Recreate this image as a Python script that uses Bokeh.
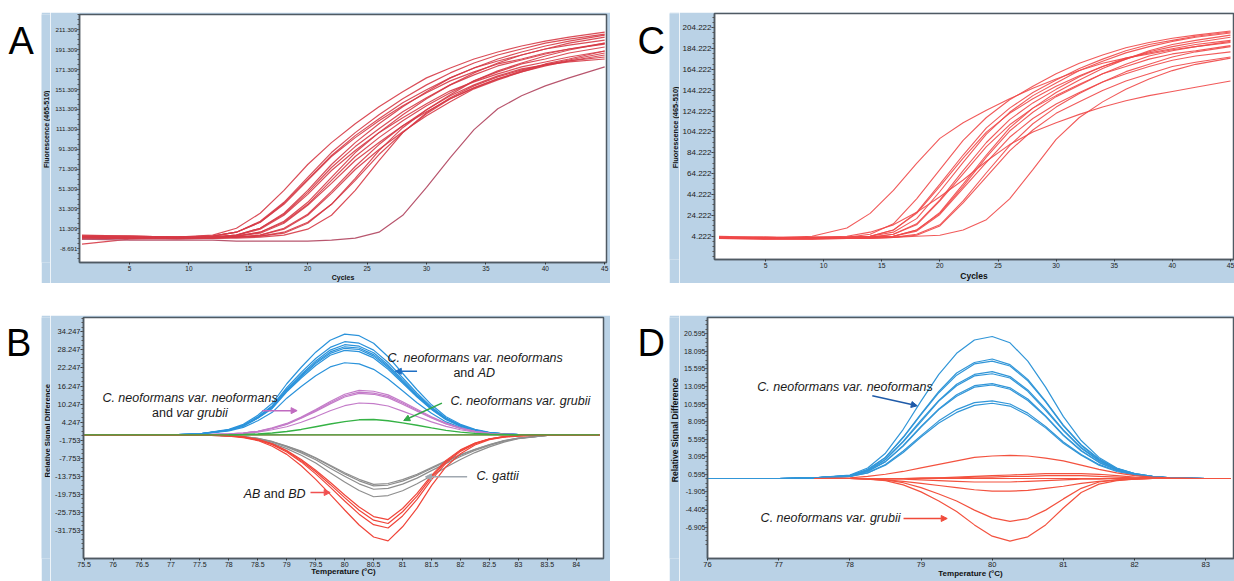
import math
from bokeh.plotting import figure
from bokeh.layouts import row, column
from bokeh.models import (Range1d, FixedTicker, PrintfTickFormatter, NumeralTickFormatter,
                          Label, Arrow, NormalHead, Spacer)
from bokeh.embed import file_html
from bokeh.resources import INLINE

nan = float("nan")

# ---------------------------------------------------------------- data
panel_letters = ["A", "B", "C", "D"]
label_fluor = "Fluorescence (465-510)"
label_rsd = "Relative Signal Difference"
label_cycles = "Cycles"
label_temp = "Temperature (\u00b0C)"

# --- A: amplification curves (Fluorescence 465-510 vs cycle)
cycles = [1, 5, 9, 12, 14, 16, 18, 20, 22, 24, 26, 28, 30, 32, 34, 36, 38, 40, 42, 45]
amp_A_main = [
    [4, 3, 3, 5, 12, 27, 50, 76, 98, 117, 134, 149, 163, 173, 182, 189, 195, 200, 204, 209],
    [3, 3, 3, 4, 8, 19, 38, 63, 88, 108, 126, 142, 156, 168, 178, 186, 192, 198, 202, 207],
    [5, 4, 3, 4, 8, 18, 36, 60, 84, 103, 120, 135, 148, 160, 169, 177, 182, 188, 192, 197],
    [3, 2, 2, 3, 5, 12, 27, 50, 76, 98, 117, 134, 149, 163, 173, 182, 189, 195, 200, 206],
    [2, 3, 3, 3, 5, 12, 26, 48, 73, 94, 112, 129, 143, 156, 166, 175, 181, 187, 192, 198],
    [4, 4, 3, 3, 5, 11, 25, 46, 70, 90, 108, 123, 137, 150, 159, 167, 174, 179, 184, 190],
    [3, 3, 2, 3, 4, 8, 19, 38, 63, 88, 108, 126, 142, 156, 168, 178, 186, 192, 198, 204],
    [2, 2, 2, 2, 4, 8, 18, 36, 60, 84, 103, 120, 135, 148, 160, 169, 177, 182, 188, 194],
    [3, 2, 2, 3, 4, 7, 17, 35, 57, 80, 98, 115, 129, 142, 153, 162, 169, 175, 180, 186],
    [1, 2, 2, 3, 3, 5, 12, 26, 49, 74, 96, 115, 131, 146, 160, 170, 178, 185, 191, 198],
    [2, 2, 2, 2, 3, 5, 11, 25, 47, 71, 91, 109, 125, 139, 152, 161, 169, 176, 181, 188],
    [3, 2, 2, 2, 3, 4, 8, 18, 36, 60, 86, 108, 127, 142, 153, 162, 170, 177, 182, 190],
    [-4, 1, 2, 2, 3, 4, 7, 17, 36, 62, 90, 113, 131, 145, 156, 165, 172, 176, 179, 182],
    [2, 2, 1, 2, 2, 3, 5, 11, 25, 50, 80, 108, 128, 143, 155, 164, 171, 176, 180, 184],
    [4, 4, 3, 4, 8, 18, 37, 61, 85, 105, 122, 138, 151, 163, 173, 180, 186, 192, 196, 201],
]
amp_A_late = [1, 0, 0, 0, -1, -1, -1, -1, 0, 2, 8, 25, 53, 83, 111, 132, 145, 155, 163, 174]
ticks_cycles = [5, 10, 15, 20, 25, 30, 35, 40, 45]
ticks_A_y = [211.309, 191.309, 171.309, 151.309, 131.309, 111.309, 91.309,
             71.309, 51.309, 31.309, 11.309, -8.691]

# --- C: amplification curves
amp_C = [
    [3, 2, 4, 12, 26, 48, 74, 98, 113, 125, 136, 146, 155, 163, 170, 175, 179, 183, 186, 190],
    [4, 3, 3, 3, 6, 16, 40, 68, 96, 118, 135, 148, 160, 170, 178, 185, 190, 194, 197, 201],
    [3, 2, 3, 3, 4, 10, 27, 54, 82, 108, 127, 142, 154, 165, 174, 182, 188, 192, 196, 200],
    [3, 3, 2, 3, 4, 10, 26, 52, 79, 104, 122, 136, 148, 158, 167, 175, 180, 184, 188, 192],
    [2, 2, 2, 3, 3, 6, 16, 39, 67, 94, 116, 132, 145, 157, 167, 174, 181, 186, 190, 195],
    [3, 2, 2, 2, 3, 6, 15, 38, 64, 90, 111, 127, 139, 150, 160, 167, 174, 179, 182, 187],
    [2, 2, 2, 2, 3, 4, 10, 26, 52, 80, 105, 123, 138, 149, 160, 169, 177, 182, 186, 191],
    [3, 3, 2, 2, 3, 4, 9, 25, 50, 75, 99, 117, 131, 142, 152, 160, 167, 173, 177, 181],
    [2, 2, 2, 2, 3, 3, 6, 15, 38, 65, 91, 112, 128, 141, 152, 162, 169, 176, 181, 186],
    [2, 1, 1, 2, 2, 3, 5, 14, 36, 61, 86, 106, 122, 133, 144, 153, 160, 167, 171, 176],
    [3, 2, 2, 2, 2, 3, 4, 5, 10, 20, 40, 68, 97, 118, 133, 145, 155, 163, 169, 175],
    [3, 2, 3, 4, 8, 15, 27, 42, 58, 76, 92, 104, 113, 121, 128, 134, 139, 143, 147, 153],
    [3, 3, 3, 3, 4, 8, 21, 47, 75, 102, 123, 139, 151, 163, 172, 180, 186, 191, 195, 199],
    [2, 3, 2, 3, 3, 4, 10, 27, 54, 82, 108, 127, 142, 154, 165, 174, 182, 188, 192, 197],
]
ticks_C_y = [204.222, 184.222, 164.222, 144.222, 124.222, 104.222, 84.222,
             64.222, 44.222, 24.222, 4.222]

# --- B: melting curves (relative signal difference vs temperature)
temps_B = [75.5, 76.0, 76.5, 77.0, 77.5, 78.0, 78.25, 78.5, 78.75, 79.0, 79.25, 79.5,
           79.75, 80.0, 80.25, 80.5, 80.75, 81.0, 81.25, 81.5, 81.75, 82.0, 82.25,
           82.5, 82.75, 83.0, 83.5, 84.0, 84.4]
melt_B_blue = [
    [0, 0, 0, 0, 0.3, 1.8, 3.5, 6.5, 10.5, 17, 22.5, 27.5, 31.5, 33.5, 33, 30.5, 26, 20.5, 15, 10, 6, 3.5, 1.8, 0.8, 0.3, 0.1, 0, 0, 0],
    [0, 0, 0, 0, 0.3, 1.7, 3.2, 6.0, 9.7, 15.7, 20.8, 25.4, 29.1, 31.0, 30.5, 28.2, 24.1, 19.0, 13.9, 9.3, 5.6, 3.2, 1.7, 0.7, 0.3, 0.1, 0, 0, 0],
    [0, 0, 0, 0, 0.3, 1.6, 3.1, 5.8, 9.4, 15.2, 20.1, 24.6, 28.2, 30.0, 29.5, 27.3, 23.3, 18.3, 13.4, 9.0, 5.4, 3.1, 1.6, 0.7, 0.3, 0.1, 0, 0, 0],
    [0, 0, 0, 0, 0.3, 1.6, 3.1, 5.7, 9.2, 14.9, 19.7, 24.1, 27.6, 29.3, 28.9, 26.7, 22.8, 17.9, 13.1, 8.8, 5.3, 3.1, 1.6, 0.7, 0.3, 0.1, 0, 0, 0],
    [0, 0, 0, 0, 0.3, 1.5, 3.0, 5.6, 9.0, 14.6, 19.4, 23.7, 27.1, 28.8, 28.4, 26.2, 22.4, 17.6, 12.9, 8.6, 5.2, 3.0, 1.5, 0.7, 0.3, 0.1, 0, 0, 0],
    [0, 0, 0, 0, 0.3, 1.5, 2.9, 5.5, 8.8, 14.3, 18.9, 23.1, 26.5, 28.1, 27.7, 25.6, 21.8, 17.2, 12.6, 8.4, 5.0, 2.9, 1.5, 0.7, 0.3, 0.1, 0, 0, 0],
    [0, 0, 0, 0, 0.2, 1.3, 2.5, 4.7, 7.5, 12.2, 16.1, 19.7, 22.6, 24.0, 23.6, 21.8, 18.6, 14.7, 10.7, 7.2, 4.3, 2.5, 1.3, 0.6, 0.2, 0.1, 0, 0, 0],
]
melt_B_pink = [
    [0, 0, 0, 0, 0, 0.3, 0.6, 1.2, 2.3, 3.8, 5.9, 8.4, 11.1, 13.5, 14.8, 14.5, 13.3, 11.0, 8.5, 6.0, 3.9, 2.3, 1.2, 0.5, 0.2, 0.1, 0, 0, 0],
    [0, 0, 0, 0, 0, 0.3, 0.6, 1.2, 2.2, 3.6, 5.7, 8.1, 10.7, 13.0, 14.2, 13.9, 12.8, 10.6, 8.2, 5.8, 3.7, 2.2, 1.2, 0.5, 0.2, 0.1, 0, 0, 0],
    [0, 0, 0, 0, 0, 0.3, 0.6, 1.1, 2.1, 3.5, 5.5, 7.8, 10.3, 12.6, 13.8, 13.5, 12.4, 10.2, 7.9, 5.6, 3.6, 2.1, 1.1, 0.5, 0.2, 0.1, 0, 0, 0],
    [0, 0, 0, 0, 0, 0.2, 0.4, 0.9, 1.7, 2.7, 4.2, 6.0, 8.0, 9.7, 10.6, 10.4, 9.6, 7.9, 6.1, 4.3, 2.8, 1.7, 0.9, 0.4, 0.1, 0.1, 0, 0, 0],
]
melt_B_green = [0, 0, 0, 0, 0, 0, 0.1, 0.3, 0.6, 1.1, 1.8, 2.7, 3.6, 4.4, 5.0, 5.1, 4.7, 4.0, 3.2, 2.3, 1.5, 0.9, 0.5, 0.2, 0.1, 0, 0, 0, 0]
melt_B_green_flat = [nan, nan, nan, nan, nan, 0, 0, 0, 0, 0, 0, 0, 0, 0, 0, 0, 0, 0, 0, 0, 0, 0, 0, 0, 0, 0, nan, nan, nan]
melt_B_gray = [
    [0, 0, 0, 0, 0, -0.3, -0.6, -1.2, -2.3, -3.8, -5.6, -7.8, -10.4, -13.0, -15.3, -17.0, -16.7, -15.4, -13.5, -11.2, -8.9, -6.8, -4.9, -3.3, -2.0, -1.1, -0.2, 0, 0],
    [0, 0, 0, 0, 0, -0.3, -0.6, -1.3, -2.4, -4.0, -6.0, -8.3, -11.1, -13.8, -16.3, -18.1, -17.8, -16.4, -14.4, -11.9, -9.5, -7.2, -5.2, -3.5, -2.1, -1.2, -0.2, 0, 0],
    [0, 0, 0, 0, 0, -0.4, -0.7, -1.5, -2.8, -4.6, -6.8, -9.4, -12.6, -15.7, -18.5, -20.6, -20.2, -18.6, -16.3, -13.6, -10.8, -8.2, -5.9, -4.0, -2.4, -1.3, -0.2, 0, 0],
    [0, 0, 0, 0, 0, -0.3, -0.6, -1.2, -2.2, -3.7, -5.4, -7.6, -10.1, -12.6, -14.8, -16.5, -16.2, -14.9, -13.1, -10.9, -8.6, -6.6, -4.8, -3.2, -1.9, -1.1, -0.2, 0, 0],
]
melt_B_red = [
    [0, 0, 0, 0, 0, -0.3, -0.7, -1.5, -3.0, -5.2, -8.2, -11.8, -15.8, -20.0, -24.0, -27.2, -28.2, -24.5, -19.5, -13.5, -8.5, -5.0, -2.7, -1.3, -0.6, -0.3, 0, 0, 0],
    [0, 0, 0, 0, 0, -0.3, -0.8, -1.7, -3.3, -5.7, -9.0, -13.0, -17.4, -22.0, -26.4, -29.9, -31.0, -27.0, -21.5, -14.9, -9.4, -5.5, -3.0, -1.4, -0.7, -0.3, 0, 0, 0],
    [0, 0, 0, 0, 0, -0.4, -0.9, -1.9, -3.8, -6.5, -10.3, -14.8, -19.8, -25.0, -30.0, -34.0, -35.3, -30.6, -24.4, -16.9, -10.6, -6.3, -3.4, -1.6, -0.8, -0.4, 0, 0, 0],
    [0, 0, 0, 0, 0, -0.3, -0.7, -1.6, -3.1, -5.4, -8.6, -12.3, -16.5, -20.9, -25.1, -28.4, -29.5, -25.6, -20.4, -14.1, -8.9, -5.2, -2.8, -1.4, -0.6, -0.3, 0, 0, 0],
]
melt_B_red_flat = [0] * len(temps_B)
ticks_B_x = [75.5, 76, 76.5, 77, 77.5, 78, 78.5, 79, 79.5, 80, 80.5, 81, 81.5, 82, 82.5, 83, 83.5, 84]
ticks_B_y = [34.247, 28.247, 22.247, 16.247, 10.247, 4.247, -1.753, -7.753,
             -13.753, -19.753, -25.753, -31.753]

# --- D: melting curves
temps_D = [76.0, 76.5, 77.0, 77.5, 78.0, 78.25, 78.5, 78.75, 79.0, 79.25, 79.5, 79.75,
           80.0, 80.25, 80.5, 80.75, 81.0, 81.25, 81.5, 81.75, 82.0, 82.25, 82.5, 83.0, 83.35]
melt_D_blue = [
    [0, 0, 0, 0.1, 0.5, 1.5, 3.6, 7.0, 11.0, 14.8, 17.8, 19.7, 20.2, 19.3, 16.7, 13.0, 8.8, 5.4, 3.0, 1.5, 0.7, 0.3, 0.1, 0, 0],
    [0, 0, 0, 0.1, 0.4, 1.3, 3.0, 5.9, 9.2, 12.4, 15.0, 16.5, 17.0, 16.2, 14.1, 11.0, 7.6, 4.8, 2.8, 1.4, 0.7, 0.3, 0.1, 0, 0],
    [0, 0, 0, 0.1, 0.4, 1.2, 3.0, 5.8, 9.1, 12.2, 14.7, 16.3, 16.7, 16.0, 13.9, 10.9, 7.5, 4.7, 2.7, 1.4, 0.7, 0.3, 0.1, 0, 0],
    [0, 0, 0, 0.1, 0.4, 1.1, 2.7, 5.3, 8.3, 11.1, 13.4, 14.8, 15.2, 14.5, 12.6, 9.9, 6.9, 4.4, 2.6, 1.3, 0.6, 0.3, 0.1, 0, 0],
    [0, 0, 0, 0.1, 0.4, 1.1, 2.7, 5.2, 8.1, 11.0, 13.2, 14.6, 14.9, 14.3, 12.4, 9.7, 6.8, 4.3, 2.5, 1.3, 0.6, 0.3, 0.1, 0, 0],
    [0, 0, 0, 0.1, 0.3, 1.0, 2.4, 4.7, 7.4, 9.9, 11.9, 13.2, 13.5, 12.9, 11.3, 8.9, 6.2, 4.0, 2.3, 1.2, 0.6, 0.2, 0.1, 0, 0],
    [0, 0, 0, 0.1, 0.3, 1.0, 2.4, 4.6, 7.3, 9.8, 11.7, 13.0, 13.3, 12.7, 11.1, 8.8, 6.1, 3.9, 2.3, 1.2, 0.6, 0.2, 0.1, 0, 0],
    [0, 0, 0, 0.1, 0.3, 0.8, 2.0, 3.9, 6.1, 8.2, 9.8, 10.8, 11.05, 10.6, 9.3, 7.4, 5.2, 3.4, 2.0, 1.1, 0.5, 0.2, 0.1, 0, 0],
    [0, 0, 0, 0.1, 0.3, 0.8, 1.9, 3.7, 5.9, 7.9, 9.4, 10.4, 10.7, 10.3, 9.0, 7.2, 5.0, 3.3, 1.9, 1.0, 0.5, 0.2, 0.1, 0, 0],
]
melt_D_red = [
    [nan, nan, nan, 0, 0, 0, 0, 0, 0, 0, 0, 0, 0, 0, 0, 0, 0, 0, 0, 0, 0, 0, 0, 0, 0],
    [nan, nan, nan, 0, 0, -0.1, -0.3, -0.9, -1.9, -3.2, -4.7, -6.6, -8.2, -8.9, -8.3, -6.6, -4.2, -2.0, -0.8, -0.3, -0.1, 0, 0, 0, 0],
    [nan, nan, nan, 0, 0, -0.1, -0.2, -0.6, -1.3, -2.2, -3.2, -4.5, -5.6, -6.1, -5.7, -4.5, -2.9, -1.4, -0.5, -0.2, -0.1, 0, 0, 0, 0],
    [nan, nan, nan, 0, 0, -0.1, -0.2, -0.4, -0.7, -1.0, -1.3, -1.6, -1.8, -1.8, -1.7, -1.4, -1.1, -0.7, -0.4, -0.2, -0.1, 0, 0, 0, 0],
    [nan, nan, nan, 0, 0, 0, -0.1, -0.1, -0.2, -0.3, -0.4, -0.5, -0.5, -0.5, -0.4, -0.3, -0.2, -0.1, -0.1, 0, 0, 0, 0, 0, 0],
    [nan, nan, nan, 0, 0.1, 0.3, 0.6, 1.0, 1.5, 2.0, 2.5, 3.0, 3.2, 3.3, 3.2, 2.9, 2.5, 1.9, 1.3, 0.8, 0.4, 0.2, 0.1, 0, 0],
    [nan, nan, nan, 0, 0, 0, 0, 0, 0.1, 0.1, 0.2, 0.3, 0.4, 0.5, 0.6, 0.7, 0.7, 0.7, 0.6, 0.4, 0.2, 0.1, 0, 0, 0],
    [nan, nan, nan, 0, 0, 0, 0, 0, 0, 0.1, 0.1, 0.2, 0.2, 0.3, 0.3, 0.4, 0.4, 0.4, 0.3, 0.2, 0.1, 0, 0, 0, 0],
]
ticks_D_x = [76, 77, 78, 79, 80, 81, 82, 83]
ticks_D_y = [20.595, 18.095, 15.595, 13.095, 10.595, 8.095, 5.595, 3.095, 0.595,
             -1.905, -4.405, -6.905]

# ---------------------------------------------------------------- style
FONT = "Liberation Sans"
FRAME_BLUE = "#bad2e6"
OUTLINE = "#4f5a63"


def blank_fig(w, h, bg):
    p = figure(width=w, height=h, x_range=Range1d(0, w), y_range=Range1d(h, 0),
               toolbar_location=None, output_backend="svg", min_border=0,
               x_axis_location=None, y_axis_location=None)
    p.grid.visible = False
    p.outline_line_color = None
    p.background_fill_color = bg
    p.border_fill_color = bg
    return p


def letter_fig(w, h, ch, x, baseline):
    p = blank_fig(w, h, "white")
    p.add_layout(Label(x=x, y=baseline, text=ch, text_font=FONT, text_font_size="38px",
                       text_color="black", text_baseline="alphabetic", text_align="left"))
    return p


def ylabel_fig(w, h, text, cx, cy, size):
    p = blank_fig(w, h, FRAME_BLUE)
    p.add_layout(Label(x=cx, y=cy, text=text, angle=math.pi / 2, text_font=FONT,
                       text_font_size=f"{size}px", text_font_style="bold",
                       text_color="#111111", text_align="center", text_baseline="middle"))
    return p


def make_panel(w, h, xr, yr, borders, xticks, yticks, xfmt, xlabel,
               xtick_px, ytick_px, xlab_px, xlab_standoff, ytick_out):
    top, right, bottom, left = borders
    p = figure(width=w, height=h, x_range=Range1d(*xr), y_range=Range1d(*yr),
               toolbar_location=None, output_backend="svg",
               min_border_top=top, min_border_right=right,
               min_border_bottom=bottom, min_border_left=left)
    p.border_fill_color = FRAME_BLUE
    p.background_fill_color = "white"
    p.outline_line_color = OUTLINE
    p.outline_line_width = 1.5
    p.xgrid.visible = False
    p.ygrid.visible = False
    step = yticks[0] - yticks[1]
    lo, hi = min(yr), max(yr)
    minor = []
    base = min(yticks) - step
    k = 0
    while base + k * step / 4 <= hi:
        v = base + k * step / 4
        if lo <= v <= hi:
            minor.append(v)
        k += 1
    p.yaxis.ticker = FixedTicker(ticks=yticks, minor_ticks=minor)
    p.yaxis.formatter = PrintfTickFormatter(format="%.3f")
    p.xaxis.ticker = FixedTicker(ticks=xticks)
    p.xaxis.formatter = NumeralTickFormatter(format=xfmt)
    for ax in (p.xaxis[0], p.yaxis[0]):
        ax.axis_line_color = OUTLINE
        ax.axis_line_width = 1.5
        ax.major_tick_line_color = "#333333"
        ax.major_tick_in = 0
        ax.minor_tick_line_color = "#555555"
        ax.minor_tick_out = 2
        ax.minor_tick_in = 0
        ax.major_label_text_font = FONT
        ax.major_label_text_color = "#222222"
        ax.axis_label_text_font = FONT
        ax.axis_label_text_font_style = "bold"
        ax.axis_label_text_color = "#111111"
    p.xaxis.major_tick_out = 2
    p.yaxis.major_tick_out = ytick_out
    p.yaxis.major_label_text_font_size = f"{ytick_px}px"
    p.xaxis.major_label_text_font_size = f"{xtick_px}px"
    p.xaxis.axis_label = xlabel
    p.xaxis.axis_label_text_font_size = f"{xlab_px}px"
    p.yaxis.major_label_standoff = 0
    p.xaxis.major_label_standoff = 1
    p.xaxis.axis_label_standoff = xlab_standoff
    return p


def ann(p, x, y, pieces, size="12.5px"):
    off = 0.0
    for txt, style, width in pieces:
        p.add_layout(Label(x=x, y=y, x_offset=off, text=txt, text_font=FONT,
                           text_font_size=size, text_font_style=style,
                           text_color="#1a1a1a", text_baseline="middle", text_align="left"))
        off += width


def arrow(p, x0, y0, x1, y1, color):
    p.add_layout(Arrow(end=NormalHead(size=6, line_color=color, fill_color=color),
                       x_start=x0, y_start=y0, x_end=x1, y_end=y1,
                       line_color=color, line_width=1.5))


# ---------------------------------------------------------------- panel A
figA = make_panel(560, 271, (0.79, 45.15), (-22.45, 226.68), (2, 4, 21, 29),
                  ticks_cycles, ticks_A_y, "0", label_cycles, 6.5, 6.2, 7, 0, 2)
for ys in amp_A_main:
    figA.line(cycles, ys, line_color="#d63a46", line_width=1.2, line_alpha=0.9)
figA.line(cycles, amp_A_late, line_color="#b8566e", line_width=1.2)

# ---------------------------------------------------------------- panel C
figC = make_panel(555, 271, (0.61, 45.26), (-18.24, 217.78), (1, 1, 21, 35),
                  ticks_cycles, ticks_C_y, "0", label_cycles, 6.8, 8, 8.5, 0, 3)
for ys in amp_C:
    figC.line(cycles, ys, line_color="#f04848", line_width=1.1, line_alpha=0.9)

# ---------------------------------------------------------------- panel B
figB = make_panel(560, 266, (75.49, 84.47), (-41.15, 39.05), (2, 7, 19, 33),
                  ticks_B_x, ticks_B_y, "0.[0]", label_temp, 7, 7.5, 8, -3, 3)
for ys in melt_B_blue:
    figB.line(temps_B, ys, line_color="#2b93db", line_width=1.2)
for ys in melt_B_pink:
    figB.line(temps_B, ys, line_color="#c47cc9", line_width=1.2)
for ys in melt_B_gray:
    figB.line(temps_B, ys, line_color="#8e8e8e", line_width=1.2)
figB.line(temps_B, melt_B_red_flat, line_color="#f0453a", line_width=1.4)
for ys in melt_B_red:
    figB.line(temps_B, ys, line_color="#f0453a", line_width=1.2)
figB.line(temps_B, melt_B_green, line_color="#35b245", line_width=1.4)
figB.line(temps_B, melt_B_green_flat, line_color="#35b245", line_width=1.4)

ann(figB, 80.74, 25.6, [("C. neoformans var. neoformans", "italic", 0)])
ann(figB, 81.878, 20.7, [("and", "normal", 24.3), ("AD", "italic", 0)])
arrow(figB, 81.25, 21.15, 80.875, 21.15, "#1f6fc4")
ann(figB, 81.826, 11.33, [("C. neoformans var. grubii", "italic", 0)])
arrow(figB, 81.68, 10.57, 81.02, 4.78, "#31a846")
ann(figB, 82.275, -13.75, [("C. gattii", "italic", 0)])
arrow(figB, 82.115, -13.98, 81.395, -13.98, "#a0a8b0")
ann(figB, 75.816, 12.11, [("C. neoformans var. neoformans", "italic", 0)])
ann(figB, 76.674, 7.2, [("and", "normal", 24.3), ("var grubii", "italic", 0)])
arrow(figB, 78.574, 8.05, 79.179, 8.05, "#c06ac0")
ann(figB, 78.256, -19.54, [("AB", "italic", 20.2), ("and", "normal", 24.3), ("BD", "italic", 0)])
arrow(figB, 79.41, -19.2, 79.75, -19.2, "#f05050")

# ---------------------------------------------------------------- panel D
figD = make_panel(555, 266, (76.0, 83.39), (-11.38, 22.9), (2, 1, 23, 28),
                  ticks_D_x, ticks_D_y, "0", label_temp, 7.5, 7, 8, -1, 2)
for ys in melt_D_blue:
    figD.line(temps_D, ys, line_color="#3196d8", line_width=1.2)
for ys in melt_D_red:
    figD.line(temps_D, ys, line_color="#f3523f", line_width=1.2)

ann(figD, 76.70, 13.04, [("C. neoformans var. neoformans", "italic", 0)])
arrow(figD, 78.315, 11.76, 78.947, 10.34, "#1e5aa8")
ann(figD, 76.746, -5.62, [("C. neoformans var. grubii", "italic", 0)])
arrow(figD, 78.754, -5.69, 79.368, -5.69, "#f04a3a")

# ---------------------------------------------------------------- layout
top = row(letter_fig(41, 283, panel_letters[0], 8, 40),
          column(Spacer(width=569, height=12),
                 row(ylabel_fig(9, 271, label_fluor, 5, 125.5, 7), figA)),
          letter_fig(59, 283, panel_letters[2], 27, 40),
          column(Spacer(width=565, height=12),
                 row(ylabel_fig(10, 271, label_fluor, 5.5, 125.5, 7.4), figC)))
bottom = row(letter_fig(41, 266, panel_letters[1], 5.5, 27.7),
             ylabel_fig(9, 266, label_rsd, 5.5, 125, 7.6), figB,
             letter_fig(59, 266, panel_letters[3], 27, 28),
             ylabel_fig(10, 266, label_rsd, 5, 124.2, 8.5), figD)
layout = column(top, Spacer(width=1234, height=32), bottom)

open("out.html", "w").write(file_html(layout, INLINE))
